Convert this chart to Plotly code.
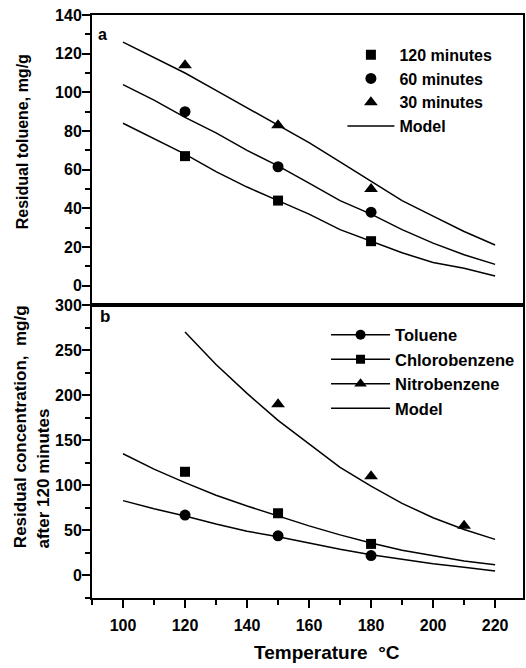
import plotly.graph_objects as go

# ---- Panel a: residual toluene vs temperature, at three times ----
temp_a = [120, 150, 180]
tol_120 = [67, 44, 23]
tol_60 = [90, 61.5, 38]
tol_30 = [114, 83, 50]

model_t = [100, 110, 120, 130, 140, 150, 160, 170, 180, 190, 200, 210, 220]
model_120 = [84, 76, 68, 59, 51, 44, 37, 29, 23, 17, 12, 9, 5]
model_60 = [104, 96, 87, 79, 70, 62, 53, 44, 37, 29, 22, 16, 11]
model_30 = [126, 118, 110, 101, 92, 83, 74, 64, 54, 44, 36, 28, 21]

# ---- Panel b: residual concentration after 120 minutes ----
temp_tol = [120, 150, 180]
conc_tol = [67, 44, 22]
temp_chl = [120, 150, 180]
conc_chl = [115, 69, 35]
temp_nit = [150, 180, 210]
conc_nit = [190, 110, 55]

model_tol = [83, 74, 66, 57, 49, 43, 36, 29, 23, 18, 13, 9, 5]
model_chl = [135, 118, 103, 89, 77, 66, 55, 45, 36, 28, 22, 16, 12]
model_nit_t = [120, 130, 140, 150, 160, 170, 180, 190, 200, 210, 220]
model_nit = [270, 234, 202, 172, 146, 120, 99, 80, 64, 51, 40]

FONT = "Liberation Sans, Arial, sans-serif"
BLACK = "black"

def f(size):
    return dict(family=FONT, size=size, color=BLACK, weight="bold")

fig = go.Figure()

# panel a data
mk = dict(color=BLACK)
fig.add_trace(go.Scatter(x=temp_a, y=tol_120, mode="markers", name="120 minutes",
                         marker=dict(symbol="square", size=10, **mk), xaxis="x", yaxis="y", legend="legend"))
fig.add_trace(go.Scatter(x=temp_a, y=tol_60, mode="markers", name="60 minutes",
                         marker=dict(symbol="circle", size=11, **mk), xaxis="x", yaxis="y", legend="legend"))
fig.add_trace(go.Scatter(x=temp_a, y=tol_30, mode="markers", name="30 minutes",
                         marker=dict(symbol="triangle-up", size=12, **mk), xaxis="x", yaxis="y", legend="legend"))
for i, ys in enumerate([model_120, model_60, model_30]):
    fig.add_trace(go.Scatter(x=model_t, y=ys, mode="lines", name="Model",
                             line=dict(color=BLACK, width=1.5), showlegend=(i == 0),
                             xaxis="x", yaxis="y", legend="legend"))

# panel b data (markers only) + legend-only entries with line+marker
fig.add_trace(go.Scatter(x=temp_tol, y=conc_tol, mode="markers", showlegend=False,
                         marker=dict(symbol="circle", size=11, **mk), xaxis="x2", yaxis="y2"))
fig.add_trace(go.Scatter(x=temp_chl, y=conc_chl, mode="markers", showlegend=False,
                         marker=dict(symbol="square", size=10, **mk), xaxis="x2", yaxis="y2"))
fig.add_trace(go.Scatter(x=temp_nit, y=conc_nit, mode="markers", showlegend=False,
                         marker=dict(symbol="triangle-up", size=12, **mk), xaxis="x2", yaxis="y2"))
for nm, sym, sz in [("Toluene", "circle", 10), ("Chlorobenzene", "square", 9), ("Nitrobenzene", "triangle-up", 11)]:
    fig.add_trace(go.Scatter(x=[None], y=[None], mode="lines+markers", name=nm,
                             marker=dict(symbol=sym, size=sz, color=BLACK), line=dict(color=BLACK, width=1.5),
                             xaxis="x2", yaxis="y2", legend="legend2"))
for i, (xs, ys) in enumerate([(model_t, model_tol), (model_t, model_chl), (model_nit_t, model_nit)]):
    fig.add_trace(go.Scatter(x=xs, y=ys, mode="lines", name="Model",
                             line=dict(color=BLACK, width=1.5), showlegend=(i == 0),
                             xaxis="x2", yaxis="y2", legend="legend2"))

minor_style = dict(ticks="outside", ticklen=5, tickcolor=BLACK, tickwidth=1.5)
axis_common = dict(showline=True, linecolor=BLACK, linewidth=2, mirror=True,
                   showgrid=False, zeroline=False, ticks="outside", tickcolor=BLACK,
                   tickwidth=1.5, ticklen=8, tickfont=f(16))

split = 0.5026
fig.update_layout(
    width=526, height=668,
    margin=dict(l=92, r=1, t=15, b=70),
    paper_bgcolor="white", plot_bgcolor="white",
    font=dict(family=FONT, color=BLACK),
    xaxis=dict(range=[90, 229], domain=[0, 1], anchor="y", showticklabels=False,
               showline=True, linecolor=BLACK, linewidth=2, mirror=True, ticks="",
               showgrid=False, zeroline=False),
    yaxis=dict(range=[-10, 140], domain=[split, 1], anchor="x", dtick=20, tick0=0,
               ticklabelstandoff=-3, minor=dict(dtick=10, **minor_style), **axis_common),
    xaxis2=dict(range=[90, 229], domain=[0, 1], anchor="y2", dtick=20, tick0=0,
                ticklabelstandoff=4, minor=dict(dtick=10, **minor_style), **axis_common),
    yaxis2=dict(range=[-25, 300], domain=[0, split], anchor="x2", dtick=50, tick0=0,
                ticklabelstandoff=-3, minor=dict(dtick=25, **minor_style), **axis_common),
    legend=dict(x=0.581, y=0.961, xanchor="left", yanchor="top", bgcolor="rgba(0,0,0,0)",
                font=f(16), tracegroupgap=0, itemwidth=47),
    legend2=dict(x=0.543, y=0.481, xanchor="left", yanchor="top", bgcolor="rgba(0,0,0,0)",
                 font=f(16.5), tracegroupgap=0, itemwidth=59),
    annotations=[
        dict(text="a", x=0.009, y=0.967, xref="paper", yref="paper", showarrow=False,
             xanchor="left", yanchor="middle", font=f(16)),
        dict(text="b", x=0.013, y=0.483, xref="paper", yref="paper", showarrow=False,
             xanchor="left", yanchor="middle", font=f(17)),
        dict(text="Residual toluene, mg/g", x=-0.162, y=0.782, xref="paper", yref="paper",
             textangle=-90, showarrow=False, xanchor="center", yanchor="middle",
             font=f(16)),
        dict(text="Residual concentration,  mg/g", x=-0.166, y=0.082,
             xref="paper", yref="paper", textangle=-90, showarrow=False,
             xanchor="center", yanchor="bottom", font=f(17)),
        dict(text="after 120 minutes", x=-0.113, y=0.082,
             xref="paper", yref="paper", textangle=-90, showarrow=False,
             xanchor="center", yanchor="bottom", font=f(17)),
        dict(text="Temperature  °C", x=0.545, y=-0.094, xref="paper", yref="paper",
             showarrow=False, xanchor="center", yanchor="middle",
             font=f(19)),
    ],
)

fig.write_html("out.html", config={"displayModeBar": False},
               post_script="document.body.style.margin='0px';")
